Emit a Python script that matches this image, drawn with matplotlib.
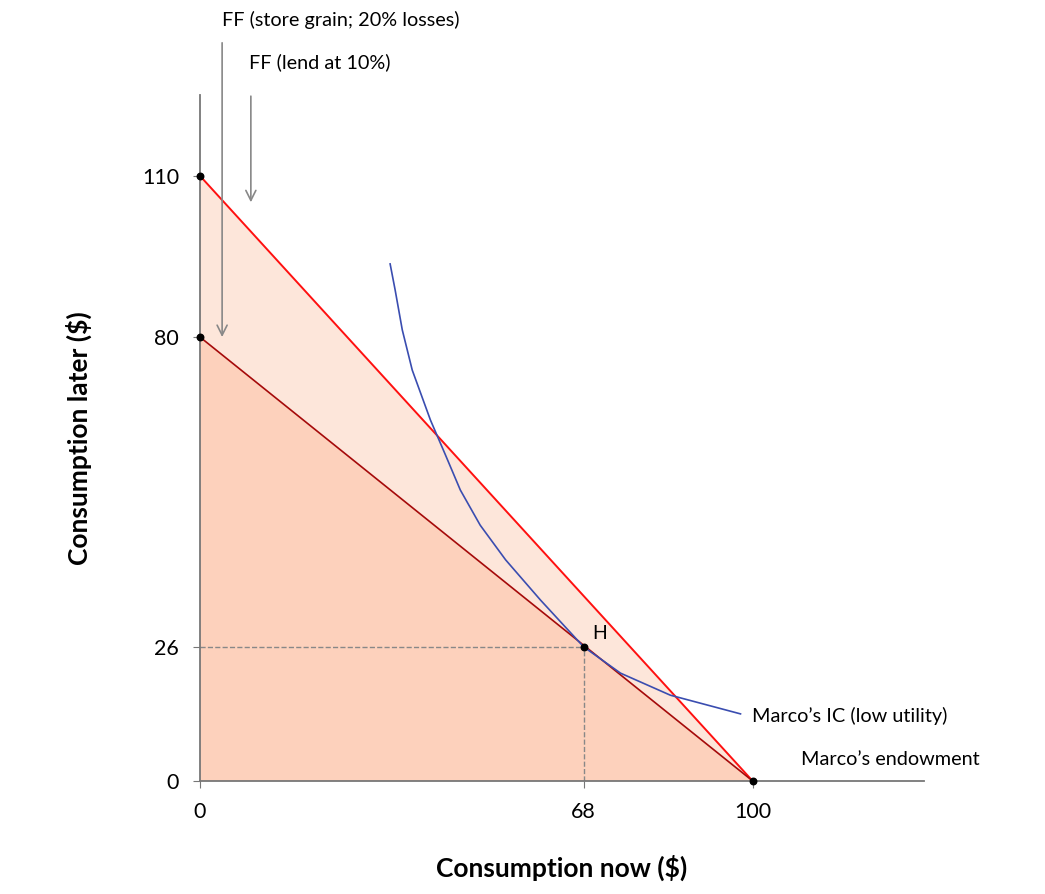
import matplotlib
matplotlib.use("Agg")
import matplotlib.pyplot as plt

plt.rcParams['font.family'] = ['Lato', 'DejaVu Sans']

x_ticks = [0, 69.4, 100]
x_tick_labels = ['0', '68', '100']
y_ticks = [0, 24.4, 80.7, 110]
y_tick_labels = ['0', '26', '80', '110']
ff_lend = ([0, 100], [110, 0])
ff_store = ([0, 100], [80.7, 0])
point_H = (69.4, 24.4)
ic_x = [34.4, 35.3, 36.6, 38.4, 41.7, 44.4, 47.1, 50.7, 55.3, 61.6, 69.4, 76.1, 85.1, 97.8]
ic_y = [94.0, 89.3, 82.0, 74.7, 65.6, 59.3, 52.9, 46.5, 40.2, 32.9, 24.4, 19.6, 15.6, 12.2]

fig = plt.figure(figsize=(10.45, 8.94), dpi=100)
ax = fig.add_axes([0.1914, 0.1264, 0.6928, 0.7673])
ax.set_xlim(0, 131)
ax.set_ylim(0, 124.7)

ax.fill([0, 0, 100], [0, 110, 0], color='#fde6da', lw=0)
ax.fill([0, 0, 100], [0, ff_store[1][0], 0], color='#fdd1bc', lw=0)
ax.plot(*ff_lend, color='#ff1010', lw=1.4)
ax.plot(*ff_store, color='#a50a0a', lw=1.2)
ax.plot(ic_x, ic_y, color='#3a4db0', lw=1.2)
ax.plot([0, point_H[0]], [point_H[1]] * 2, ls='--', color='#888888', lw=1)
ax.plot([point_H[0]] * 2, [0, point_H[1]], ls='--', color='#888888', lw=1)
ax.scatter([0, 0, point_H[0], 100], [110, ff_store[1][0], point_H[1], 0],
           color='black', s=22, zorder=5, clip_on=False)

ax.text(point_H[0] + 1.5, point_H[1] + 1.5, 'H', fontsize=14)
ax.text(99.9, 11.8, 'Marco’s IC (low utility)', fontsize=14.3, va='center')
ax.text(108.7, 3.9, 'Marco’s endowment', fontsize=14.3, va='center')
ax.text(4, 138.4, 'FF (store grain; 20% losses)', fontsize=14.3, va='center', clip_on=False)
ax.text(8.9, 130.7, 'FF (lend at 10%)', fontsize=14.3, va='center', clip_on=False)
ax.annotate('', xy=(4, 80.2), xytext=(4, 134.7), annotation_clip=False,
            arrowprops=dict(arrowstyle='->', color='#888888', lw=1.2, mutation_scale=18))
ax.annotate('', xy=(9.2, 104.7), xytext=(9.2, 125), annotation_clip=False,
            arrowprops=dict(arrowstyle='->', color='#888888', lw=1.2, mutation_scale=18))

for s in ['top', 'right']:
    ax.spines[s].set_visible(False)
for s in ['left', 'bottom']:
    ax.spines[s].set_color('#777777')
    ax.spines[s].set_linewidth(1.3)
ax.set_xticks(x_ticks, x_tick_labels)
ax.set_yticks(y_ticks, y_tick_labels)
ax.tick_params(labelsize=15.5, color='#777777', length=5, pad=10)
ax.set_xlabel('Consumption now ($)', fontsize=19, fontweight='bold', labelpad=24)
ax.set_ylabel('Consumption later ($)', fontsize=19, fontweight='bold', labelpad=36)

fig.savefig('out.png', dpi=100)
